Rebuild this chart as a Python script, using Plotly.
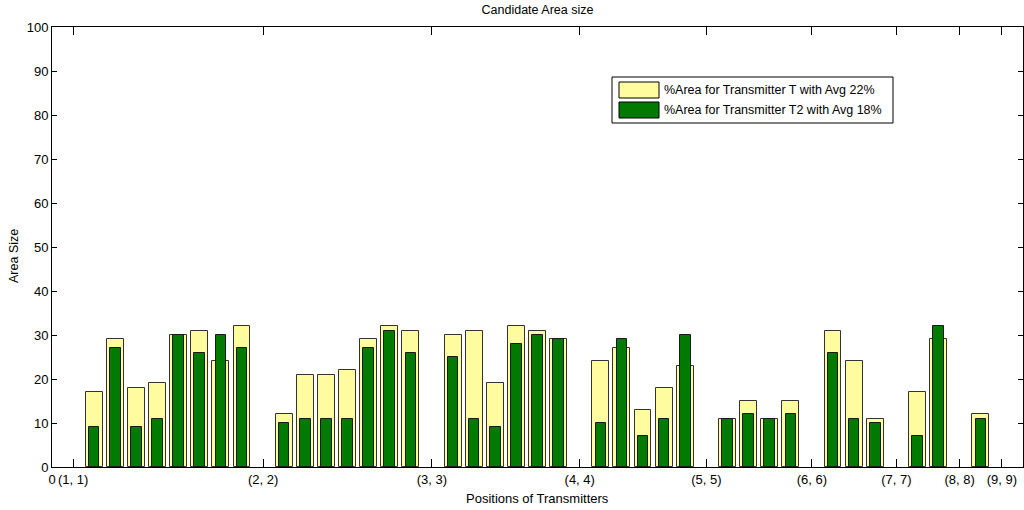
import plotly.graph_objects as go

# area (%) for each pair of transmitter positions, None where both sit on the same spot
area_t = [None, 17, 29, 18, 19, 30, 31, 24, 32,
          None, 12, 21, 21, 22, 29, 32, 31,
          None, 30, 31, 19, 32, 31, 29,
          None, 24, 27, 13, 18, 23,
          None, 11, 15, 11, 15,
          None, 31, 24, 11,
          None, 17, 29,
          None, 12,
          None]
area_t2 = [None, 9, 27, 9, 11, 30, 26, 30, 27,
           None, 10, 11, 11, 11, 27, 31, 26,
           None, 25, 11, 9, 28, 30, 29,
           None, 10, 29, 7, 11, 30,
           None, 11, 12, 11, 12,
           None, 26, 11, 10,
           None, 7, 32,
           None, 11,
           None]
position_labels = ['(1, 1)', '(2, 2)', '(3, 3)', '(4, 4)', '(5, 5)',
                   '(6, 6)', '(7, 7)', '(8, 8)', '(9, 9)']
legend_labels = ['%Area for Transmitter T with Avg 22%',
                 '%Area for Transmitter T2 with Avg 18%']

x = list(range(1, len(area_t) + 1))
tick_pos = [0] + [i for i, v in zip(x, area_t) if v is None]
tick_txt = ['0'] + position_labels

yellow = '#FFFCA0'
green = '#007A00'
font = 'Liberation Sans, Arial, sans-serif'

fig = go.Figure()
fig.add_trace(go.Bar(x=x, y=area_t, width=0.8, name=legend_labels[0],
                     marker=dict(color=yellow, line=dict(color='#333333', width=1))))
fig.add_trace(go.Bar(x=x, y=area_t2, width=0.5, name=legend_labels[1],
                     marker=dict(color=green, line=dict(color='#1a1a1a', width=1))))

# plot area in pixels: x 52..1023, y 27..467
def px(v):
    return (v - 52) / 971

def py(v):
    return (467 - v) / 440

shapes = [
    dict(type='rect', xref='paper', yref='paper', x0=px(612), x1=px(893), y0=py(123), y1=py(77),
         line=dict(color='#000000', width=1), fillcolor='#ffffff', layer='above'),
    dict(type='rect', xref='paper', yref='paper', x0=px(619), x1=px(659), y0=py(98), y1=py(82),
         line=dict(color='#000000', width=1), fillcolor=yellow, layer='above'),
    dict(type='rect', xref='paper', yref='paper', x0=px(619), x1=px(659), y0=py(118), y1=py(102),
         line=dict(color='#000000', width=1), fillcolor=green, layer='above'),
]
annotations = [
    dict(text=legend_labels[0], xref='paper', yref='paper', x=px(662), y=py(90),
         xanchor='left', yanchor='middle', showarrow=False, font=dict(size=12.5, color='#000')),
    dict(text=legend_labels[1], xref='paper', yref='paper', x=px(662), y=py(110),
         xanchor='left', yanchor='middle', showarrow=False, font=dict(size=12.5, color='#000')),
    dict(text='Positions of Transmitters', xref='paper', yref='paper', x=0.5, y=py(498),
         xanchor='center', yanchor='middle', showarrow=False, font=dict(size=13, color='#000')),
    dict(text='Area Size', xref='paper', yref='paper', x=px(14), y=py(256), textangle=-90,
         xanchor='center', yanchor='middle', showarrow=False, font=dict(size=12.5, color='#000')),
]

fig.update_layout(
    width=1024, height=510,
    margin=dict(l=52, r=1, t=27, b=43),
    barmode='overlay',
    bargap=0,
    showlegend=False,
    paper_bgcolor='#ffffff',
    plot_bgcolor='#ffffff',
    font=dict(family=font, size=13, color='#000000'),
    title=dict(text='Candidate Area size', x=0.5, xref='paper', y=1 - 10 / 510,
               yref='container', yanchor='middle', font=dict(size=12.5, color='#000')),
    shapes=shapes,
    annotations=annotations,
)
fig.update_xaxes(range=[0, 46], tickvals=tick_pos, ticktext=tick_txt, ticks='inside', ticklen=8,
                 tickcolor='#000', showline=True, linecolor='#000', linewidth=1, mirror='allticks',
                 showgrid=False, zeroline=False, tickfont=dict(size=13), automargin=False)
fig.update_yaxes(range=[0, 100], dtick=10, ticks='inside', ticklen=5, tickcolor='#000',
                 showline=True, linecolor='#000', linewidth=1, mirror='allticks',
                 showgrid=False, zeroline=False, tickfont=dict(size=13), automargin=False)

fig.write_html('out.html', config={'displayModeBar': False},
               post_script="document.body.style.margin='0';")
